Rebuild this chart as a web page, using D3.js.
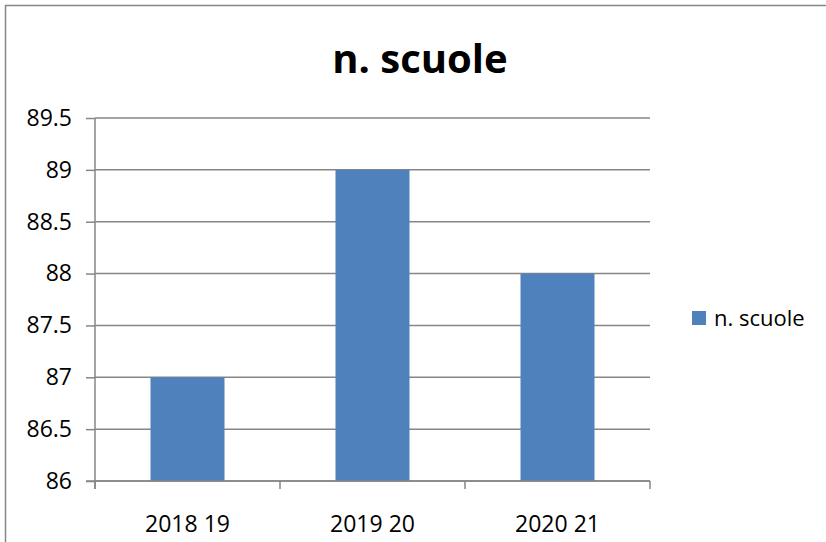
<!DOCTYPE html>
<html>
<head>
<meta charset="utf-8">
<script src="https://cdn.jsdelivr.net/npm/d3@7"></script>
<style>
body{margin:0;background:#fff;}
text{font-family:"Open Sans","Noto Sans",sans-serif;fill:#000;}
.title{font-weight:bold;font-size:40px;}
.tick text{font-size:23px;}
</style>
</head>
<body>
<svg id="chart"></svg>
<script>
var categories = ["2018 19","2019 20","2020 21"]
var values = [87,89,88]
var yTicks = [86,86.5,87,87.5,88,88.5,89,89.5]
var seriesName = "n. scuole"

var screen = {width:826,height:542}
var margins = {left:95,right:176,top:118,bottom:61}
var graph = {
    width:screen.width-margins.left-margins.right,
    height:screen.height-margins.top-margins.bottom
}

var svg = d3.select("#chart")
    .attr("width",screen.width)
    .attr("height",screen.height)

// outer frame (only top and left edges show)
svg.append("rect")
    .attr("x",5.5).attr("y",5.5)
    .attr("width",900).attr("height",700)
    .attr("fill","none")
    .attr("stroke","#868686")
    .attr("stroke-width",1.5)

var xScale = d3.scaleBand()
    .domain(categories)
    .range([0,graph.width])
    .paddingInner(0.6)
    .paddingOuter(0.3)

var yScale = d3.scaleLinear()
    .domain([86,89.5])
    .range([graph.height,0])

var target = svg.append("g")
    .attr("transform","translate("+margins.left+","+margins.top+")")

// gridlines
target.append("g")
    .selectAll("line")
    .data(yTicks)
    .enter()
    .append("line")
    .attr("x1",0)
    .attr("x2",graph.width)
    .attr("y1",function(d){return yScale(d)})
    .attr("y2",function(d){return yScale(d)})
    .attr("stroke","#868686")
    .attr("stroke-width",1.5)

target.selectAll("rect.bar")
    .data(values)
    .enter()
    .append("rect")
    .attr("class","bar")
    .attr("x",function(d,i){return xScale(categories[i])})
    .attr("y",function(d){return yScale(d)})
    .attr("width",xScale.bandwidth())
    .attr("height",function(d){return graph.height-yScale(d)})
    .attr("fill","#4F81BD")

var yAxis = d3.axisLeft(yScale)
    .tickValues(yTicks)
    .tickSize(9)
    .tickPadding(14)
    .tickFormat(d3.format(""))

target.append("g")
    .call(yAxis)
    .call(function(g){
        g.select(".domain").attr("stroke","#868686").attr("stroke-width",1.5).attr("d","M0,0V"+(graph.height+8))
        g.selectAll(".tick line").attr("stroke","#868686").attr("stroke-width",1.5)
    })

var xAxis = d3.axisBottom(xScale).tickSize(0).tickPadding(35)

var xg = target.append("g")
    .attr("transform","translate(0,"+graph.height+")")
    .call(xAxis)
xg.select(".domain").attr("stroke","#868686").attr("stroke-width",1.5).attr("d","M-9,0H"+graph.width)
// boundary ticks between categories
var bounds = [0,1,2,3].map(function(i){return i*xScale.step()})
xg.selectAll("line.sep")
    .data(bounds)
    .enter()
    .append("line")
    .attr("class","sep")
    .attr("x1",function(d){return d}).attr("x2",function(d){return d})
    .attr("y1",0).attr("y2",8)
    .attr("stroke","#868686").attr("stroke-width",1.5)

svg.append("text")
    .attr("class","title")
    .attr("x",420)
    .attr("y",73)
    .attr("text-anchor","middle")
    .text(seriesName)

var legend = svg.append("g").attr("transform","translate(692,311)")
legend.append("rect").attr("width",14).attr("height",14).attr("fill","#4F81BD")
legend.append("text").attr("x",22).attr("y",15).style("font-size","22px").text(seriesName)
</script>
</body>
</html>
